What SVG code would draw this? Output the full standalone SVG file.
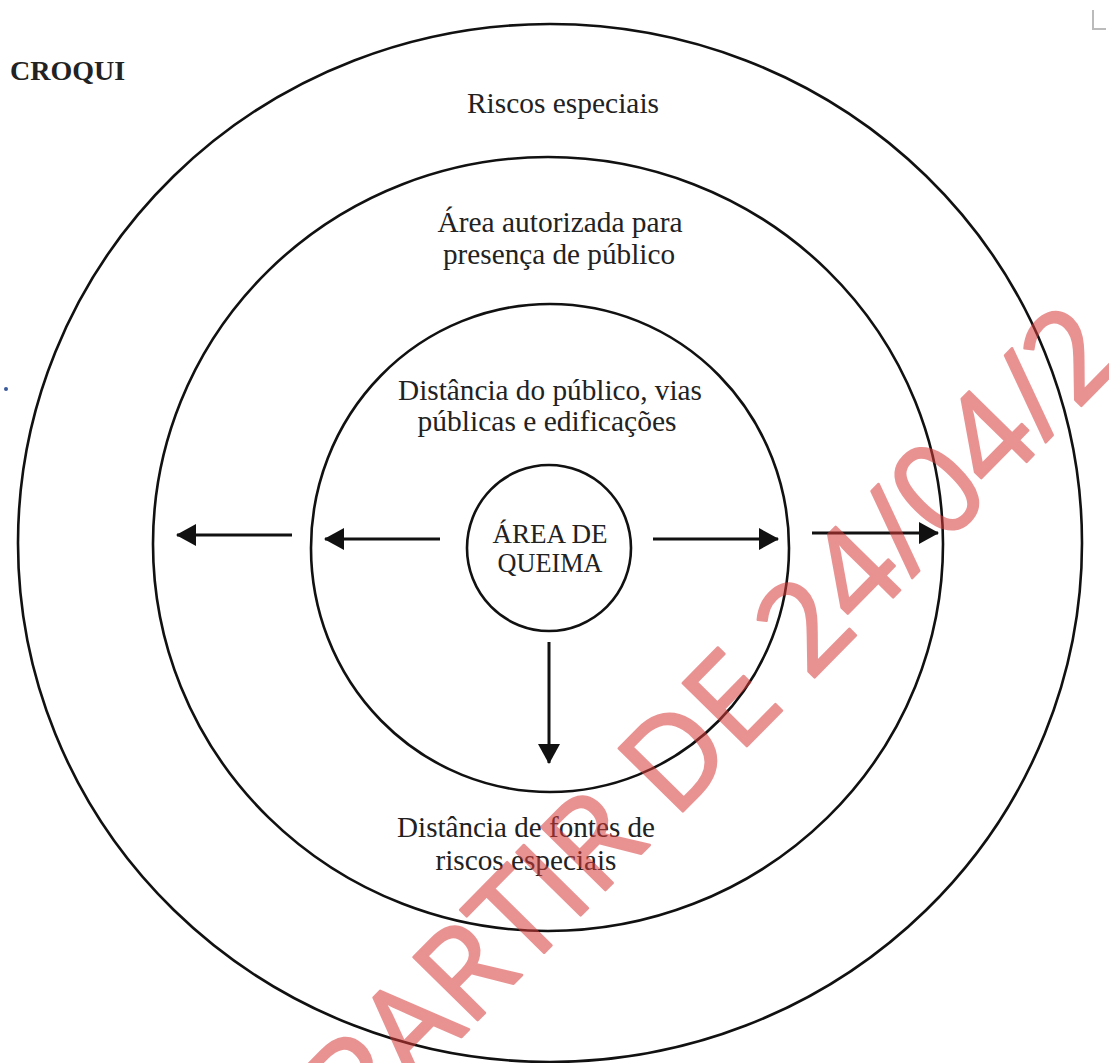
<svg xmlns="http://www.w3.org/2000/svg" width="1109" height="1063" viewBox="0 0 1109 1063">
<style>
.ring{fill:none;stroke:#111;stroke-width:2.6}
.lbl{font-family:"Liberation Serif","Times New Roman",serif;font-size:29px;fill:#222;text-anchor:middle}
.ctr{font-size:26.5px}
.arr{stroke:#111;stroke-width:3;fill:none;marker-end:url(#head)}
.wm{font-family:"Open Sans","DejaVu Sans",sans-serif;font-size:126px;fill:#d83a3a;stroke:#d83a3a;stroke-width:2.5;stroke-linejoin:round}
</style>
<defs>
<marker id="head" viewBox="0 0 20 22" refX="19" refY="11" markerWidth="20" markerHeight="22" markerUnits="userSpaceOnUse" orient="auto">
<path d="M0,0 L20,11 L0,22 Z" fill="#111"/>
</marker>
</defs>
<rect width="1109" height="1063" fill="#fff"/>
<text x="10" y="80" style="font-family:'Liberation Serif','Times New Roman',serif;font-size:28px;font-weight:bold;fill:#222">CROQUI</text>
<path d="M1093,10 V29 H1106" fill="none" stroke="#bbb" stroke-width="2"/>
<circle cx="6" cy="389" r="2" fill="#3a5a9a"/>
<g id="ring-outer">
<ellipse class="ring" cx="550" cy="543" rx="532" ry="519"/>
<text class="lbl" x="563" y="113" textLength="192" lengthAdjust="spacingAndGlyphs">Riscos especiais</text>
</g>
<g id="ring-public">
<ellipse class="ring" cx="548" cy="544" rx="395" ry="387"/>
<text class="lbl" x="560" y="232" textLength="245" lengthAdjust="spacingAndGlyphs">Área autorizada para</text>
<text class="lbl" x="559" y="264" textLength="232" lengthAdjust="spacingAndGlyphs">presença de público</text>
</g>
<g id="ring-distance">
<ellipse class="ring" cx="550" cy="548" rx="239" ry="244"/>
<text class="lbl" x="550" y="400" textLength="304" lengthAdjust="spacingAndGlyphs">Distância do público, vias</text>
<text class="lbl" x="547" y="431" textLength="259" lengthAdjust="spacingAndGlyphs">públicas e edificações</text>
</g>
<g id="area-queima">
<ellipse class="ring" cx="549" cy="548" rx="82" ry="83"/>
<text class="lbl ctr" x="550" y="543" textLength="115" lengthAdjust="spacingAndGlyphs">ÁREA DE</text>
<text class="lbl ctr" x="550" y="572" textLength="105" lengthAdjust="spacingAndGlyphs">QUEIMA</text>
</g>
<g id="label-fontes">
<text class="lbl" x="526" y="837" textLength="258" lengthAdjust="spacingAndGlyphs">Distância de fontes de</text>
<text class="lbl" x="526" y="870" textLength="181" lengthAdjust="spacingAndGlyphs">riscos especiais</text>
</g>
<g id="connectors">
<line class="arr" x1="292" y1="535" x2="177" y2="535"/>
<line class="arr" x1="440" y1="539" x2="325" y2="539"/>
<line class="arr" x1="653" y1="539" x2="778" y2="539"/>
<line class="arr" x1="812" y1="533" x2="938" y2="533"/>
<line class="arr" x1="549" y1="642" x2="549" y2="763"/>
</g>
<g id="watermark" opacity="0.55">
<text class="wm" transform="translate(360,1140) rotate(-45.5)">PARTIR DE 24/04/2</text>
</g>
</svg>
